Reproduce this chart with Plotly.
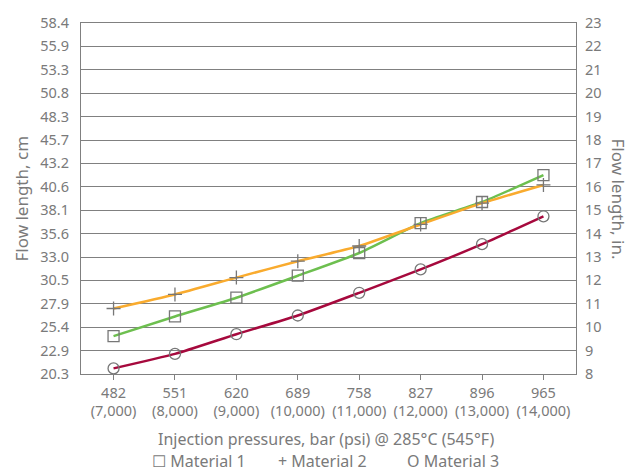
import plotly.graph_objects as go

pressures_bar = ["482", "551", "620", "689", "758", "827", "896", "965"]
pressures_psi = ["(7,000)", "(8,000)", "(9,000)", "(10,000)", "(11,000)", "(12,000)", "(13,000)", "(14,000)"]

# flow length in inches
material_1 = [9.62, 10.46, 11.26, 12.20, 13.17, 14.45, 15.35, 16.50]
material_2 = [10.80, 11.40, 12.12, 12.82, 13.47, 14.39, 15.30, 16.08]
material_3 = [8.24, 8.86, 9.70, 10.50, 11.47, 12.47, 13.55, 14.74]

inch_ticks = list(range(8, 24))
cm_labels = ["20.3", "22.9", "25.4", "27.9", "30.5", "33.0", "35.6", "38.1",
             "40.6", "43.2", "45.7", "48.3", "50.8", "53.3", "55.9", "58.4"]

GRAY = "#7a7a7a"
LINE_GRAY = "#808080"
FONT = "Noto Sans"
TICK_SIZE = 14.5
TITLE_SIZE = 17
BOTTOM_SIZE = 16

x = list(range(len(pressures_bar)))
ticktext = [f"{a}<br>{b}" for a, b in zip(pressures_bar, pressures_psi)]

series = [
    ("Material 1", material_1, "#6dbf4f", "square-open", 11),
    ("Material 2", material_2, "#f9ab2e", "cross-thin-open", 10),
    ("Material 3", material_3, "#a6093d", "circle-open", 11),
]

fig = go.Figure()
for name, vals, col, sym, sz in series:
    fig.add_trace(go.Scatter(x=x, y=vals, mode="lines", name=name,
                             line=dict(color=col, width=2.5, shape="spline", smoothing=0.5),
                             showlegend=False, hoverinfo="skip"))
for name, vals, col, sym, sz in series:
    fig.add_trace(go.Scatter(x=x, y=vals, mode="markers", name=name,
                             marker=dict(symbol=sym, size=sz, color="#777777",
                                         line=dict(color="#777777", width=1.3)),
                             showlegend=False))
# invisible trace to activate right axis
fig.add_trace(go.Scatter(x=[0], y=[8], yaxis="y2", mode="markers",
                         marker=dict(opacity=0), showlegend=False, hoverinfo="skip"))

# plot area: 81..576 px wide (495), 14..374 px tall (360)
def px_x(v):
    return (v - 81) / 495.0

def px_y(v):
    return (374 - v) / 360.0

fig.update_layout(
    width=636, height=474,
    margin=dict(l=81, r=60, t=14, b=100),
    paper_bgcolor="white", plot_bgcolor="white",
    font=dict(family=FONT, size=TICK_SIZE, color=GRAY),
    xaxis=dict(range=[-0.53, 7.53], tickvals=x, ticktext=ticktext,
               ticks="outside", ticklen=5, tickcolor=LINE_GRAY,
               showline=True, linecolor=LINE_GRAY, linewidth=1.3, mirror=True,
               showgrid=False, zeroline=False, tickfont=dict(size=TICK_SIZE, color=GRAY)),
    yaxis=dict(range=[8, 23], tickvals=inch_ticks, ticktext=cm_labels,
               showgrid=True, gridcolor=LINE_GRAY, gridwidth=1.2,
               showline=True, linecolor=LINE_GRAY, linewidth=1.3,
               zeroline=False, ticks="", ticklabelstandoff=8,
               tickfont=dict(size=TICK_SIZE, color=GRAY)),
    yaxis2=dict(range=[8, 23], tickvals=inch_ticks, ticktext=[str(v) for v in inch_ticks],
                overlaying="y", side="right", showgrid=False,
                showline=True, linecolor=LINE_GRAY, linewidth=1.3,
                zeroline=False, ticks="", ticklabelstandoff=5,
                tickfont=dict(size=TICK_SIZE, color=GRAY)),
    annotations=[
        dict(text="Flow length, cm", xref="paper", yref="paper", x=px_x(21), y=0.5,
             textangle=-90, showarrow=False, xanchor="center", yanchor="middle",
             font=dict(size=TITLE_SIZE, color=GRAY)),
        dict(text="Flow length, in.", xref="paper", yref="paper", x=px_x(618), y=0.5,
             textangle=90, showarrow=False, xanchor="center", yanchor="middle",
             font=dict(size=TITLE_SIZE, color=GRAY)),
        dict(text="Injection pressures, bar (psi) @ 285°C (545°F)", xref="paper", yref="paper",
             x=px_x(326), y=px_y(441), showarrow=False, xanchor="center", yanchor="middle",
             font=dict(size=BOTTOM_SIZE, color=GRAY)),
        dict(text="☐ Material 1", xref="paper", yref="paper", x=px_x(198.5), y=px_y(463.5),
             showarrow=False, xanchor="center", yanchor="middle", font=dict(size=BOTTOM_SIZE, color=GRAY)),
        dict(text="+ Material 2", xref="paper", yref="paper", x=px_x(322.5), y=px_y(463.5),
             showarrow=False, xanchor="center", yanchor="middle", font=dict(size=BOTTOM_SIZE, color=GRAY)),
        dict(text="O Material 3", xref="paper", yref="paper", x=px_x(452.5), y=px_y(463.5),
             showarrow=False, xanchor="center", yanchor="middle", font=dict(size=BOTTOM_SIZE, color=GRAY)),
    ],
)

fig.write_html("out.html")
